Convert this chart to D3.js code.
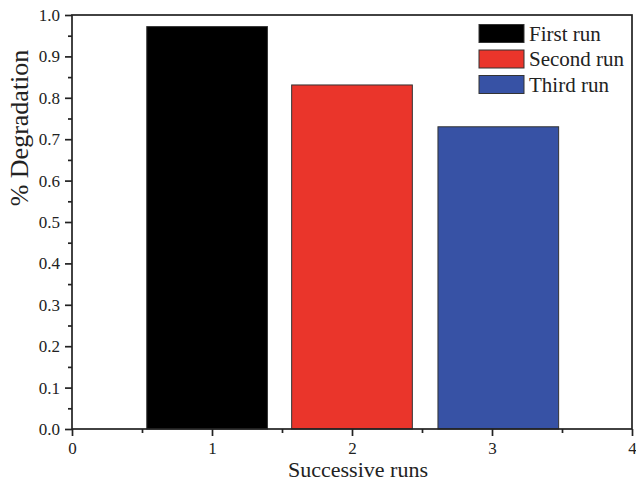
<!DOCTYPE html>
<html><head><meta charset="utf-8">
<script src="https://cdn.jsdelivr.net/npm/d3@7"></script>
<style>body{margin:0;background:#fff;} text{font-family:"Liberation Serif","Times New Roman",serif;fill:#222;}</style>
</head><body>
<svg id="c" width="636" height="482"></svg>
<script>
const categories = ["First run", "Second run", "Third run"];
const runs = [0.965, 2.0, 3.045];
const values = [0.972, 0.831, 0.730];
const colors = ["#000000", "#ea352b", "#3752a5"];
const xTicks = [0, 1, 2, 3, 4];
const yTicks = [0, 0.1, 0.2, 0.3, 0.4, 0.5, 0.6, 0.7, 0.8, 0.9, 1.0];

const svg = d3.select("#c");
const L = 72, R = 632, T = 15, B = 429;
const x = d3.scaleLinear().domain([0, 4]).range([L, R]);
const y = d3.scaleLinear().domain([0, 1]).range([B, T]);
const bw = 0.862;

svg.selectAll("rect.bar").data(values).enter().append("rect")
  .attr("x", (d, i) => x(runs[i] - bw / 2))
  .attr("width", x(bw) - x(0))
  .attr("y", d => y(d))
  .attr("height", d => y(0) - y(d))
  .attr("fill", (d, i) => colors[i])
  .attr("stroke", "#333").attr("stroke-width", 1);

const ax = "#222";
svg.append("rect").attr("x", L).attr("y", T).attr("width", R - L).attr("height", B - T)
  .attr("fill", "none").attr("stroke", ax).attr("stroke-width", 1.7);

const xAxis = d3.axisBottom(x).tickValues(xTicks).tickFormat(d3.format("d")).tickSize(7).tickPadding(5.5);
svg.append("g").attr("transform", `translate(0,${B})`).call(xAxis);
const xMinor = d3.axisBottom(x).tickValues([0.5, 1.5, 2.5, 3.5]).tickSize(4).tickFormat("");
svg.append("g").attr("transform", `translate(0,${B})`).call(xMinor);

const yAxis = d3.axisLeft(y).tickValues(yTicks).tickFormat(d3.format(".1f")).tickSize(7).tickPadding(5);
svg.append("g").attr("transform", `translate(${L},0)`).call(yAxis);
const yMinor = d3.axisLeft(y).tickValues(d3.range(0.05, 1, 0.1)).tickSize(4).tickFormat("");
svg.append("g").attr("transform", `translate(${L},0)`).call(yMinor);

svg.selectAll(".domain").remove();
svg.selectAll(".tick line").attr("stroke", ax).attr("stroke-width", 1.7);
svg.selectAll(".tick text").attr("font-size", 17).attr("fill", "#222")
  .style("font-family", '"Liberation Serif","Times New Roman",serif');

svg.append("text").attr("x", 358).attr("y", 477).attr("text-anchor", "middle")
  .attr("font-size", 22).text("Successive runs");
svg.append("text").attr("transform", `translate(28,128) rotate(-90)`)
  .attr("text-anchor", "middle").attr("font-size", 26).text("% Degradation");

const lg = svg.append("g");
categories.forEach((c, i) => {
  const yy = 24.5 + i * 25.5;
  lg.append("rect").attr("x", 479).attr("y", yy).attr("width", 45).attr("height", 18)
    .attr("fill", colors[i]).attr("stroke", "#333").attr("stroke-width", 1);
  lg.append("text").attr("x", 529).attr("y", yy + 16).attr("font-size", 21).text(c);
});
</script>
</body></html>
